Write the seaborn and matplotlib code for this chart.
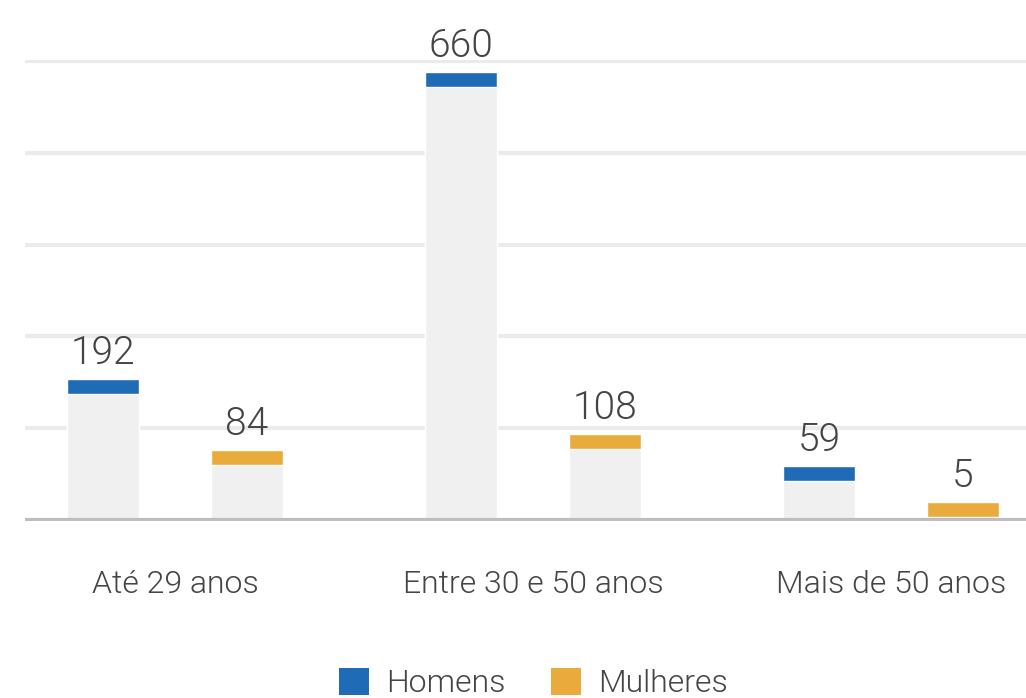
import matplotlib
matplotlib.use("Agg")
import matplotlib.pyplot as plt
from matplotlib.patches import Patch
import seaborn as sns
import pandas as pd

# Data
faixas = ["Até 29 anos", "Entre 30 e 50 anos", "Mais de 50 anos"]
generos = ["Homens", "Mulheres"]
homens = [192, 660, 59]
mulheres = [84, 108, 5]

cores = {"Homens": "#1f6bb5", "Mulheres": "#e8ab3c"}
cinza = "#f0f0f0"
texto = "#444444"

df = pd.DataFrame({
    "faixa": faixas * 2,
    "genero": ["Homens"] * len(faixas) + ["Mulheres"] * len(faixas),
    "valor": homens + mulheres,
})
TAMPA = 23  # height of the coloured cap above each grey bar (data units)
df["topo"] = df["valor"] + TAMPA

sns.set_theme(style="white")
plt.rcParams["font.family"] = ["Roboto", "DejaVu Sans"]
plt.rcParams["font.weight"] = 300  # Roboto Light

W, H = 1026, 698
fig = plt.figure(figsize=(W / 100, H / 100), dpi=100)
px = 459 / 700.0
y_lo, y_hi = -2, 702
bottom_px = 520 + 2 * px
top_px = 61 - 2 * px
ax = fig.add_axes([25 / W, (H - bottom_px) / H, 1001 / W, (bottom_px - top_px) / H])

# coloured caps (drawn first), grey bodies on top
sns.barplot(data=df, x="faixa", y="topo", hue="genero", order=faixas,
            hue_order=generos, palette=cores, saturation=1, width=0.804,
            gap=0.5, errorbar=None, legend=False, ax=ax, zorder=2)
sns.barplot(data=df, x="faixa", y="valor", hue="genero", order=faixas,
            hue_order=generos, palette={g: cinza for g in generos},
            saturation=1, width=0.804, gap=0.5, errorbar=None,
            legend=False, ax=ax, zorder=3)

for cont, vals in zip(ax.containers[:2], [homens, mulheres]):
    ax.bar_label(cont, labels=[str(v) for v in vals], padding=5,
                 fontsize=28, color=texto, fontweight=300)

ax.set_xlim(-0.419, 2.377)
ax.set_ylim(y_lo, y_hi)
ax.set_yticks([140, 280, 420, 560, 700])
ax.set_yticklabels([])
ax.tick_params(axis="y", length=0)
ax.yaxis.grid(True, color="#ebebeb", linewidth=3)
ax.set_axisbelow(True)
ax.axhline(0, color="#bdbdbd", linewidth=3, zorder=4)
for s in ax.spines.values():
    s.set_visible(False)

ax.set_xlabel("")
ax.set_ylabel("")
ax.tick_params(axis="x", length=0, pad=35, labelsize=23, labelcolor=texto)
for t in ax.get_xticklabels():
    t.set_fontweight(300)

handles = [Patch(facecolor=cores[g], edgecolor="none", label=g) for g in generos]
leg = fig.legend(handles=handles, loc="center", bbox_to_anchor=(533.5 / W, 15 / H),
                 ncol=2, frameon=False, fontsize=23, labelcolor=texto,
                 handlelength=0.94, handleheight=0.94, handletextpad=0.53,
                 columnspacing=1.44)
for t in leg.get_texts():
    t.set_fontweight(300)

fig.savefig("out.png", dpi=100)
